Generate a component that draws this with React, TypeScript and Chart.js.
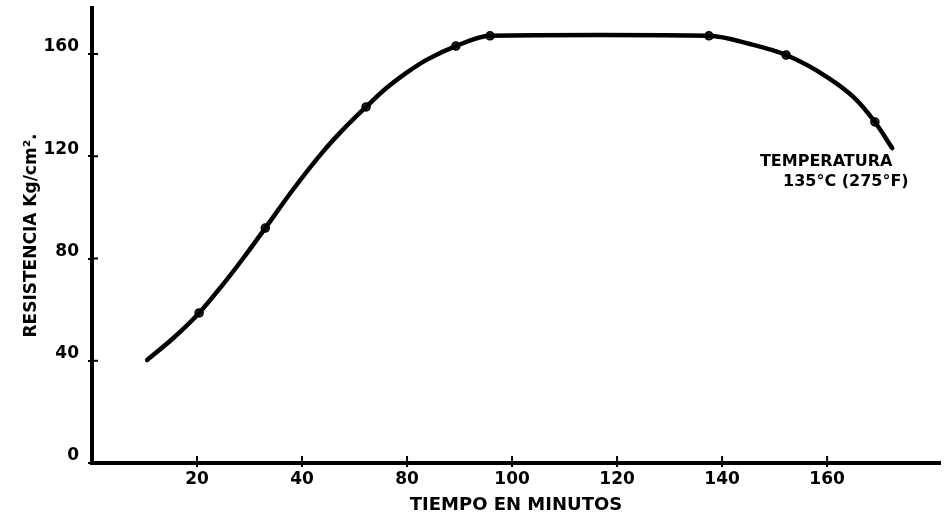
import React, { useEffect, useRef } from "react";
import { Chart, registerables } from "chart.js";

Chart.register(...registerables);

// Horizontal positions are in units of the printed tick spacing (a tick every 20 units).
// The printed labels skip 60, exactly as in the original figure.
const xTickValues = [20, 40, 60, 80, 100, 120, 140];
const xTickLabels = ["20", "40", "80", "100", "120", "140", "160"];
const yTickValues = [0, 40, 80, 120, 160];

// Resistance curve (Kg/cm²)
const curveX = [10.5, 15.5, 20.4, 24.8, 28.8, 33.0, 38.3, 44.0, 47.8, 52.2, 55.8, 60.0, 63.8, 69.3, 75.8, 96.8, 117.5, 125.3, 132.2, 140.0, 145.0, 149.1, 152.4];
const curveY = [40.3, 48.9, 58.7, 69.5, 80.1, 91.9, 107.0, 121.8, 130.4, 139.3, 146.2, 152.8, 157.8, 163.1, 167.1, 167.4, 167.1, 163.9, 159.6, 151.0, 143.2, 133.4, 123.2];

// Measured points marked on the curve
const markerX = [20.4, 33.0, 52.2, 69.3, 75.8, 117.5, 132.2, 149.1];
const markerY = [58.7, 91.9, 139.3, 163.1, 167.1, 167.1, 159.6, 133.4];

const annotationLines = ["TEMPERATURA", "135°C (275°F)"];
const annotationX = [127.2, 131.6];
const annotationY = [117.8, 110.0];

const FONT = '"DejaVu Sans", sans-serif';

const innerTicks = {
  id: "innerTicks",
  afterDraw(chart: any) {
    const { ctx, chartArea, scales } = chart;
    ctx.save();
    ctx.strokeStyle = "#000";
    ctx.lineWidth = 2;
    xTickValues.forEach((v) => {
      const px = scales.x.getPixelForValue(v);
      ctx.beginPath();
      ctx.moveTo(px, chartArea.bottom);
      ctx.lineTo(px, chartArea.bottom - 7);
      ctx.stroke();
    });
    yTickValues.slice(1).forEach((v) => {
      const py = scales.y.getPixelForValue(v);
      ctx.beginPath();
      ctx.moveTo(chartArea.left, py);
      ctx.lineTo(chartArea.left + 6, py);
      ctx.stroke();
    });
    ctx.restore();
  },
};

const annotationPlugin = {
  id: "tempAnnotation",
  afterDraw(chart: any) {
    const { ctx, scales } = chart;
    ctx.save();
    ctx.fillStyle = "#000";
    ctx.font = `bold 16px ${FONT}`;
    ctx.textAlign = "left";
    ctx.textBaseline = "middle";
    annotationLines.forEach((t, i) => {
      ctx.fillText(t, scales.x.getPixelForValue(annotationX[i]), scales.y.getPixelForValue(annotationY[i]));
    });
    ctx.restore();
  },
};

export default function App() {
  const ref = useRef<HTMLCanvasElement | null>(null);

  useEffect(() => {
    if (!ref.current) return;
    Chart.defaults.font.family = FONT;
    Chart.defaults.color = "#000";
    const chart = new Chart(ref.current, {
      type: "scatter",
      data: {
        datasets: [
          {
            type: "line",
            data: curveX.map((x, i) => ({ x, y: curveY[i] })),
            borderColor: "#000",
            borderWidth: 4.5,
            pointRadius: 0,
            cubicInterpolationMode: "monotone",
            fill: false,
            borderCapStyle: "round",
          } as any,
          {
            data: markerX.map((x, i) => ({ x, y: markerY[i] })),
            pointRadius: 4,
            pointBorderWidth: 1.5,
            pointBackgroundColor: "#333",
            pointBorderColor: "#000",
          },
        ],
      },
      options: {
        responsive: false,
        animation: false,
        layout: { padding: { top: 8, right: 7, left: 0, bottom: 0 } },
        plugins: { legend: { display: false }, tooltip: { enabled: false } },
        scales: {
          x: {
            type: "linear",
            min: 0,
            max: 161.5,
            afterBuildTicks: (scale: any) => {
              scale.ticks = xTickValues.map((v) => ({ value: v }));
            },
            afterFit: (scale: any) => {
              scale.height = 54;
              scale.paddingLeft = 0;
              scale.paddingRight = 0;
            },
            ticks: {
              callback: (value: any) => {
                const i = xTickValues.indexOf(Number(value));
                return i >= 0 ? xTickLabels[i] : "";
              },
              font: { size: 17, weight: "bold" },
              color: "#000",
              padding: 2,
              maxRotation: 0,
            },
            grid: { drawOnChartArea: false, drawTicks: true, tickLength: 4, color: "#000", lineWidth: 2 },
            border: { display: true, color: "#000", width: 4 },
            title: {
              display: true,
              text: "TIEMPO EN MINUTOS",
              font: { size: 18, weight: "bold" },
              color: "#000",
              padding: { top: 0, bottom: 1 },
            },
          },
          y: {
            type: "linear",
            min: 0,
            max: 178,
            afterBuildTicks: (scale: any) => {
              scale.ticks = yTickValues.map((v) => ({ value: v }));
            },
            afterFit: (scale: any) => {
              scale.width = 92;
              scale.paddingTop = 0;
              scale.paddingBottom = 0;
            },
            ticks: {
              font: { size: 17, weight: "bold" },
              color: "#000",
              padding: 9,
              labelOffset: -7,
            },
            grid: { drawOnChartArea: false, drawTicks: true, tickLength: 4, color: "#000", lineWidth: 2 },
            border: { display: true, color: "#000", width: 4 },
            title: {
              display: true,
              text: "RESISTENCIA Kg/cm².",
              font: { size: 17, weight: "bold" },
              color: "#000",
              padding: { top: 21, bottom: 0 },
            },
          },
        },
      },
      plugins: [innerTicks, annotationPlugin],
    });
    return () => chart.destroy();
  }, []);

  return (
    <div style={{ position: "fixed", left: 0, top: 0, width: 947, height: 517, background: "#fff" }}>
      <canvas ref={ref} width={947} height={517} style={{ display: "block" }} />
    </div>
  );
}
